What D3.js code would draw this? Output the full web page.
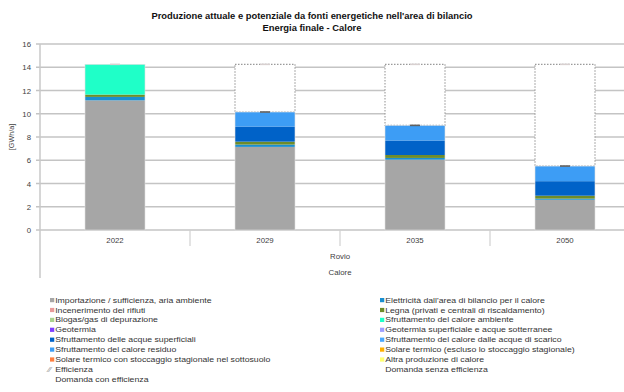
<!DOCTYPE html>
<html><head><meta charset="utf-8">
<script src="https://cdn.jsdelivr.net/npm/d3@7"></script>
<style>body{margin:0;background:#fff}svg{display:block;font-family:"Liberation Sans",Arial,sans-serif}</style>
</head><body><svg id="c" width="624" height="392"></svg>
<script>
const years = ["2022","2029","2035","2050"];
const importazione = [11.15, 7.15, 6.05, 2.6];
const elettricita = [0.3, 0.2, 0.15, 0.1];
const legna = [0.2, 0.25, 0.25, 0.25];
const caloreAmbiente = [2.6, 0, 0, 0];
const acqueSuperficiali = [0, 1.3, 1.25, 1.25];
const caloreResiduo = [0, 1.25, 1.3, 1.3];
const domandaSenza = [14.25, 14.25, 14.25, 14.25];
const yTicks = [0,2,4,6,8,10,12,14,16];
const titleLines = ["Produzione attuale e potenziale da fonti energetiche nell'area di bilancio","Energia finale - Calore"];
const legendLeft = [
  ["Importazione / sufficienza, aria ambiente","#a6a6a6"],
  ["Incenerimento dei rifiuti","#e89a9a"],
  ["Biogas/gas di depurazione","#a9d18e"],
  ["Geotermia","#7f3fff"],
  ["Sfruttamento delle acque superficiali","#0062c8"],
  ["Sfruttamento del calore residuo","#3d9df5"],
  ["Solare termico con stoccaggio stagionale nel sottosuolo","#ff7f3f"],
  ["Efficienza","dotted"],
  ["Domanda con efficienza","none"]
];
const legendRight = [
  ["Elettricità dall'area di bilancio per il calore","#1a8fd0"],
  ["Legna (privati e centrali di riscaldamento)","#6e8c2a"],
  ["Sfruttamento del calore ambiente","#1fffc8"],
  ["Geotermia superficiale e acque sotterranee","#9f9fff"],
  ["Sfruttamento del calore dalle acque di scarico","#4aa8ff"],
  ["Solare termico (escluso lo stoccaggio stagionale)","#ffb000"],
  ["Altra produzione di calore","#ffff70"],
  ["Domanda senza efficienza","none"]
];
const series = [
  {name:"imp", vals:importazione, color:"#a6a6a6"},
  {name:"ele", vals:elettricita, color:"#1a8fd0"},
  {name:"leg", vals:legna, color:"#6e8c2a"},
  {name:"amb", vals:caloreAmbiente, color:"#1fffc8"},
  {name:"sup", vals:acqueSuperficiali, color:"#0062c8"},
  {name:"res", vals:caloreResiduo, color:"#3d9df5"}
];

const svg = d3.select("#c");
const x = d3.scaleBand().domain(years).range([40,640]).paddingInner(0).paddingOuter(0);
const y = d3.scaleLinear().domain([0,16]).range([230,44]);
const bw = 60;

// title
svg.selectAll("text.title").data(titleLines).join("text")
  .attr("x",312).attr("y",(d,i)=>19+i*12).attr("text-anchor","middle")
  .attr("font-size",9.4).attr("font-weight","bold").attr("fill","#111").text(d=>d);

// gridlines
svg.append("g").selectAll("line").data(yTicks).join("line")
  .attr("x1",36).attr("x2",640).attr("y1",d=>y(d)).attr("y2",d=>y(d))
  .attr("stroke","#c4c4c4").attr("stroke-width",1.3);
// y axis
const ya = svg.append("g").attr("transform","translate(40,0)")
  .call(d3.axisLeft(y).tickValues(yTicks).tickSize(0).tickPadding(9));
ya.select(".domain").remove();
ya.selectAll("text").attr("font-size",7.8).attr("fill","#404040").attr("font-family","Liberation Sans, Arial");
svg.append("line").attr("x1",40).attr("x2",40).attr("y1",44).attr("y2",278).attr("stroke","#c8c8c8").attr("stroke-width",1.5);
// category separators
svg.append("g").selectAll("line").data(years.slice(1)).join("line")
  .attr("x1",d=>x(d)).attr("x2",d=>x(d)).attr("y1",230).attr("y2",246)
  .attr("stroke","#d0d0d0").attr("stroke-width",1.2);
// x labels
svg.append("g").selectAll("text").data(years).join("text")
  .attr("x",d=>x(d)+x.bandwidth()/2).attr("y",243).attr("text-anchor","middle")
  .attr("font-size",7.8).attr("fill","#404040").text(d=>d);
svg.append("text").attr("x",340).attr("y",259).attr("text-anchor","middle").attr("font-size",7.8).attr("fill","#404040").text("Rovio");
svg.append("text").attr("x",340).attr("y",275).attr("text-anchor","middle").attr("font-size",7.8).attr("fill","#404040").text("Calore");
// y label
svg.append("text").attr("transform","translate(14,137) rotate(-90)").attr("text-anchor","middle")
  .attr("font-size",7.2).attr("fill","#404040").text("[GWh/a]");

// stacks
const rows = years.map((yr,i)=>{const o={year:yr}; series.forEach(s=>o[s.name]=s.vals[i]); return o;});
const stack = d3.stack().keys(series.map(s=>s.name))(rows);
const totals = rows.map(r=>series.reduce((a,s)=>a+r[s.name],0));

// efficiency dotted boxes
svg.append("g").selectAll("rect").data(years.filter((d,i)=>domandaSenza[i]-totals[i]>0.05)).join("rect")
  .attr("x",d=>x(d)+x.bandwidth()/2-bw/2).attr("width",bw)
  .attr("y",d=>y(domandaSenza[years.indexOf(d)]))
  .attr("height",d=>{const i=years.indexOf(d);return y(totals[i])-y(domandaSenza[i]);})
  .attr("fill","#fff").attr("stroke","#9a9a9a").attr("stroke-width",1.1).attr("stroke-dasharray","1.5,1.5");

const g = svg.append("g");
stack.forEach((layer,k)=>{
  g.selectAll(null).data(layer.filter(d=>d[1]-d[0]>0)).join("rect")
    .attr("x",d=>x(d.data.year)+x.bandwidth()/2-bw/2).attr("width",bw)
    .attr("y",d=>y(d[1])).attr("height",d=>y(d[0])-y(d[1]))
    .attr("fill",series[k].color);
});
// thin bar outline
svg.append("g").selectAll("rect").data(years).join("rect")
  .attr("x",d=>x(d)+x.bandwidth()/2-bw/2).attr("width",bw)
  .attr("y",(d,i)=>y(totals[i])).attr("height",(d,i)=>y(0)-y(totals[i]))
  .attr("fill","none").attr("stroke","#e0e0e0").attr("stroke-width",0.6);
// demand markers
svg.append("g").selectAll("line").data(years).join("line")
  .attr("x1",d=>x(d)+x.bandwidth()/2-5).attr("x2",d=>x(d)+x.bandwidth()/2+5)
  .attr("y1",(d,i)=>y(domandaSenza[i])).attr("y2",(d,i)=>y(domandaSenza[i]))
  .attr("stroke","#d8d0d0").attr("stroke-width",1.6);
svg.append("g").selectAll("line").data(years.filter((d,i)=>domandaSenza[i]-totals[i]>0.05)).join("line")
  .attr("x1",d=>x(d)+x.bandwidth()/2-5).attr("x2",d=>x(d)+x.bandwidth()/2+5)
  .attr("y1",d=>y(totals[years.indexOf(d)])).attr("y2",d=>y(totals[years.indexOf(d)]))
  .attr("stroke","#606060").attr("stroke-width",1.6);

// legend
function legend(items, x0, y0){
  const lg = svg.append("g").attr("transform",`translate(${x0},0) scale(1.12,1)`);
  items.forEach((it,i)=>{
    const yy = y0 + i*9.9;
    if(it[1]==="dotted"){
      lg.append("text").attr("x",-1.5).attr("y",yy+2.6).attr("font-size",7.5).attr("fill","#888").text("⁄⁄");
    } else if(it[1]!=="none"){
      lg.append("rect").attr("x",0).attr("y",yy-2).attr("width",3.8).attr("height",4.2).attr("fill",it[1]);
    }
    lg.append("text").attr("x",4.6).attr("y",yy+2.7).attr("font-size",7.8).attr("fill","#333").text(it[0]);
  });
}
legend(legendLeft, 50, 300);
legend(legendRight, 380, 300);
</script></body></html>
